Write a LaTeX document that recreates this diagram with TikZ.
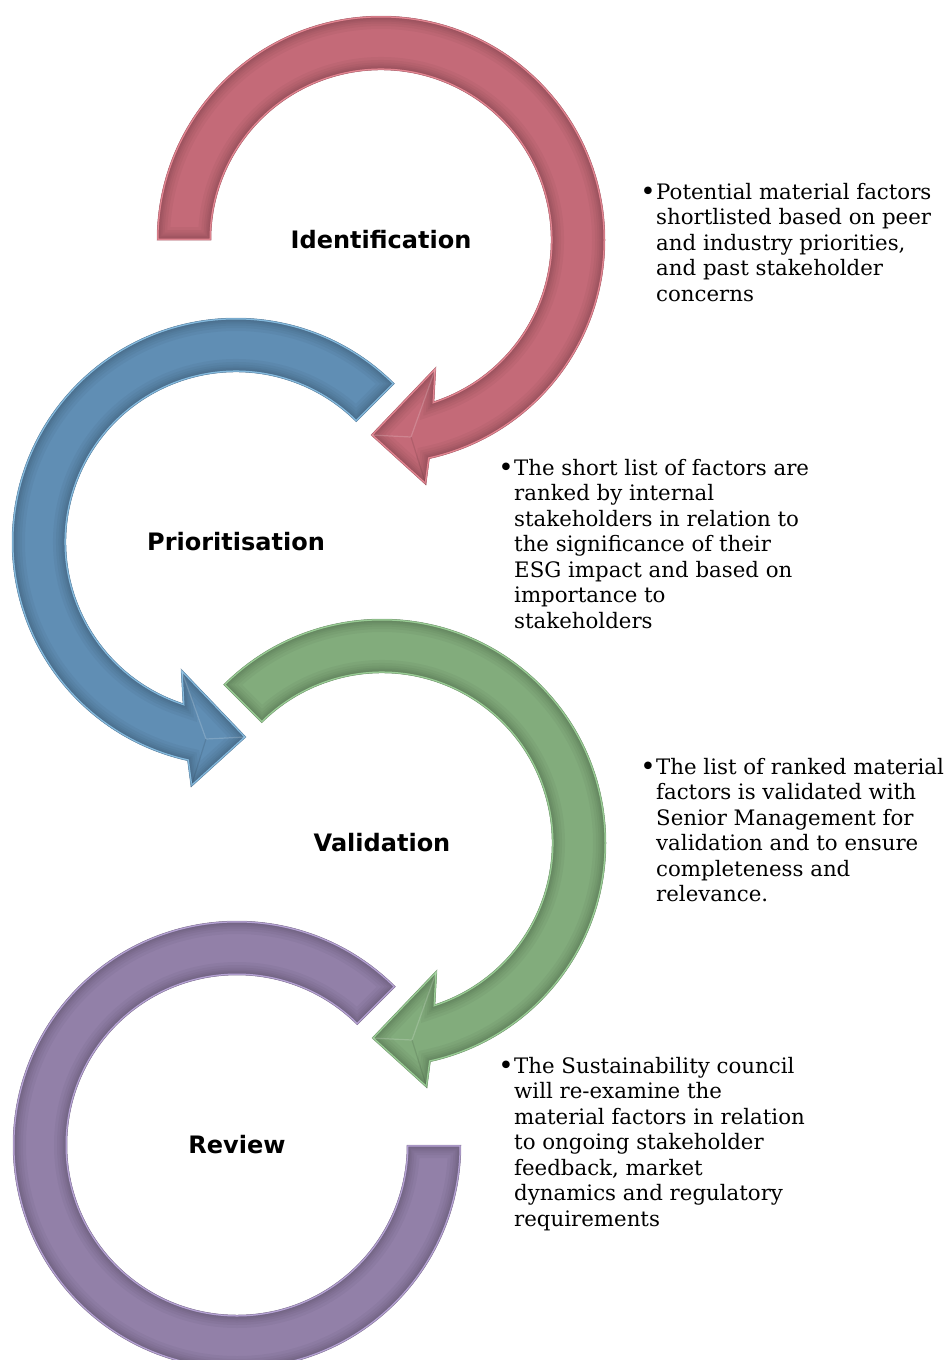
\documentclass[tikz,border=0pt]{standalone}
\usepackage{fontspec}
\setmainfont{DejaVu Serif}
\newfontfamily\lblfont{DejaVu Sans}
\definecolor{redbase}{RGB}{196,106,120}
\definecolor{redrim}{RGB}{236,140,152}
\definecolor{bluebase}{RGB}{96,142,180}
\definecolor{bluerim}{RGB}{140,196,232}
\definecolor{greenbase}{RGB}{130,172,124}
\definecolor{greenrim}{RGB}{160,214,156}
\definecolor{purplebase}{RGB}{146,128,168}
\definecolor{purplerim}{RGB}{190,170,222}
% arrow outlines (local coordinates, y up, centred on circle centre)
\def\cwpath#1{(#1:224) arc[start angle=#1, end angle=-77.5, radius=224] -- (45,-245) -- (-10,-195) -- (55,-127) -- (-71.8:170) arc[start angle=-71.8, end angle=#1, radius=170] -- cycle}
\def\ccwpath{(45:224) arc[start angle=45, end angle=257.5, radius=224] -- (-45,-245) -- (10,-195) -- (-55,-127) -- (251.8:170) arc[start angle=251.8, end angle=45, radius=170] -- cycle}
\def\ringpath{(45:224) arc[start angle=45, end angle=360, radius=224] -- (0:170) arc[start angle=360, end angle=45, radius=170] -- cycle}
\newcommand\bevelshape[3]{%
  \fill[#1] #3;
  \begin{scope}
    \clip #3;
    \foreach \w in {26,20,15,11,8,5}{\draw[black, opacity=0.035, line width=\w] #3;}
    \draw[#2, opacity=0.9, line width=3] #3;
  \end{scope}
  \draw[#1!80!black, opacity=0.6, line width=0.5] #3;
}
\begin{document}
\begin{tikzpicture}[x=1pt,y=1pt,
  lbl/.style={font=\lblfont\bfseries\fontsize{24}{28}\selectfont, inner sep=0, anchor=base},
  desc/.style={font=\fontsize{21.3}{25.5}\selectfont, inner sep=0, anchor=north west, align=left},
  facet/.style={white, opacity=0.18, line width=1.2},
  facetd/.style={black, opacity=0.10, line width=1.2},
]
\fill[white] (0,0) rectangle (949,-1360);
\useasboundingbox (0,0) rectangle (949,-1360);

% Identification (red)
\begin{scope}[shift={(381,-240)}]
  \bevelshape{redbase}{redrim}{\cwpath{180}}
  \draw[facet] (-10,-195) -- (30,-197) (55,-127) -- (30,-197);
  \draw[facetd] (45,-245) -- (30,-197);
\end{scope}
% Prioritisation (blue)
\begin{scope}[shift={(236,-542)}]
  \bevelshape{bluebase}{bluerim}{\ccwpath}
  \draw[facet] (10,-195) -- (-30,-197) (-55,-127) -- (-30,-197);
  \draw[facetd] (-45,-245) -- (-30,-197);
\end{scope}
% Validation (green)
\begin{scope}[shift={(382,-843)}]
  \bevelshape{greenbase}{greenrim}{\cwpath{135}}
  \draw[facet] (-10,-195) -- (30,-197) (55,-127) -- (30,-197);
  \draw[facetd] (45,-245) -- (30,-197);
\end{scope}
% Review (purple)
\begin{scope}[shift={(237,-1145)}]
  \bevelshape{purplebase}{purplerim}{\ringpath}
\end{scope}

\node[lbl] (lid) at (381,-248) {Identification};
\node[lbl] (lpr) at (236,-550) {Prioritisation};
\node[lbl] (lva) at (382,-851) {Validation};
\node[lbl] (lre) at (237,-1153) {Review};

\newcommand\bul{\llap{\raisebox{-1pt}{\fontsize{26}{26}\selectfont\textbullet}\hspace{0.5pt}}}
\node[desc] (tid) at (656,-181.15) {\bul\strut Potential material factors\\shortlisted based on peer\\and industry priorities,\\and past stakeholder\\concerns};
\node[desc] (tpr) at (514,-457.15) {\bul\strut The short list of factors are\\ranked by internal\\stakeholders in relation to\\the significance of their\\ESG impact and based on\\importance to\\stakeholders};
\node[desc] (tva) at (656,-756.15) {\bul\strut The list of ranked material\\factors is validated with\\Senior Management for\\validation and to ensure\\completeness and\\relevance.};
\node[desc] (tre) at (514,-1055.15) {\bul\strut The Sustainability council\\will re-examine the\\material factors in relation\\to ongoing stakeholder\\feedback, market\\dynamics and regulatory\\requirements};
\end{tikzpicture}
\end{document}
